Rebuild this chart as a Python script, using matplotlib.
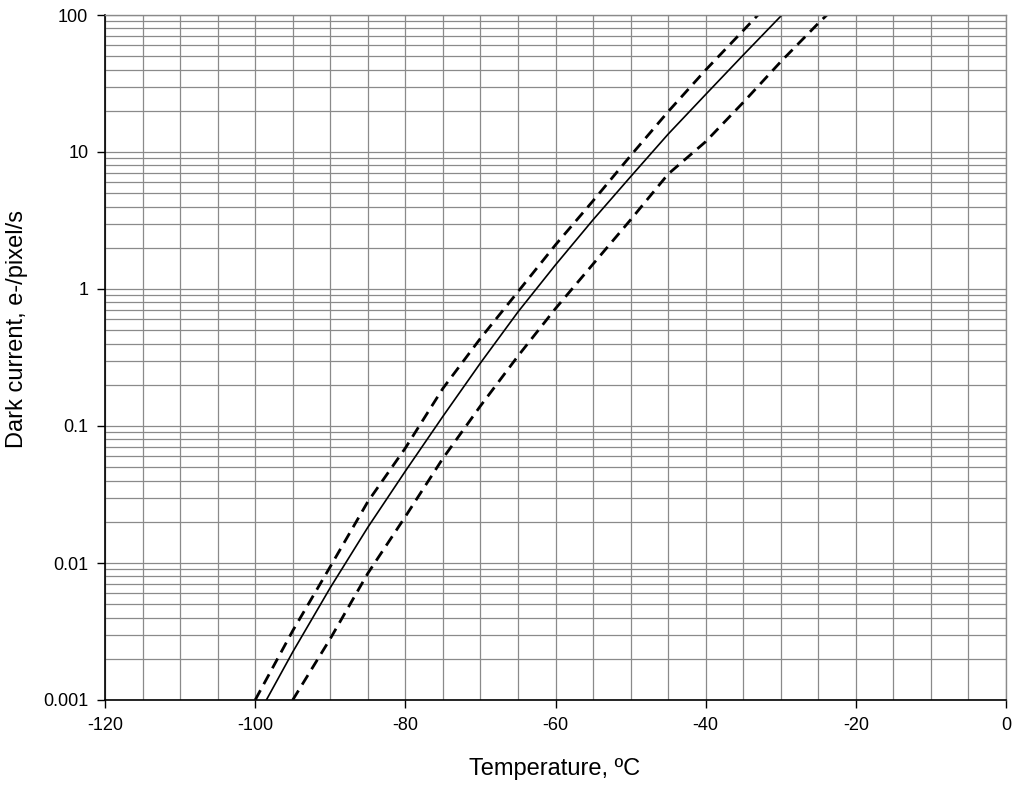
import matplotlib
matplotlib.use("Agg")
import matplotlib.pyplot as plt
from matplotlib.ticker import FixedLocator, FuncFormatter, LogLocator, MultipleLocator

plt.rcParams['font.family'] = ['Liberation Sans', 'DejaVu Sans']
plt.rcParams['axes.unicode_minus'] = False

# temperature points, degC
temp = [-100, -95, -90, -85, -80, -75, -70, -65, -60, -55, -50, -45, -40, -35, -30, -25, -20]

# dark current, e-/pixel/s
typical = [0.00071, 0.00224, 0.0066, 0.0182, 0.0468, 0.1175, 0.288, 0.68, 1.5,
           3.2, 6.6, 13.5, 26.3, 51, 98, 186, None]
upper = [0.001, 0.0032, 0.0094, 0.028, 0.069, 0.188, 0.436, 0.955, 2.1,
         4.4, 9.4, 19.7, 39.7, 77, 150, None, None]
lower = [None, 0.001, 0.0028, 0.0084, 0.0218, 0.058, 0.14, 0.324, 0.72,
         1.52, 3.2, 6.9, 11.9, 23, 45.6, 87, 160]

y_ticks = [0.001, 0.01, 0.1, 1, 10, 100]


def pairs(xs, ys):
    pts = [(x, y) for x, y in zip(xs, ys) if y is not None]
    return [p[0] for p in pts], [p[1] for p in pts]


W, H = 1016, 785
fig = plt.figure(figsize=(W / 100, H / 100), dpi=100)
ax = fig.add_axes([105 / W, 85 / H, 901 / W, 685 / H])

grid_col = '#8a8a8a'
ax.set_yscale('log')
ax.set_xlim(-120, 0)
ax.set_ylim(0.001, 100)

ax.xaxis.set_major_locator(MultipleLocator(20))
ax.xaxis.set_minor_locator(MultipleLocator(5))
ax.yaxis.set_major_locator(FixedLocator(y_ticks))
ax.yaxis.set_minor_locator(LogLocator(base=10, subs=range(2, 10)))
ax.yaxis.set_major_formatter(FuncFormatter(lambda v, p: '{:g}'.format(v)))
ax.yaxis.set_minor_formatter(FuncFormatter(lambda v, p: ''))

ax.grid(True, which='both', color=grid_col, linewidth=0.9)
ax.set_axisbelow(True)

ax.tick_params(which='major', direction='out', length=6, width=1, color='black',
               labelsize=13, pad=6)
ax.tick_params(which='minor', length=0)

for side in ('top', 'right'):
    ax.spines[side].set_color(grid_col)
    ax.spines[side].set_linewidth(1.0)
for side in ('left', 'bottom'):
    ax.spines[side].set_color('black')
    ax.spines[side].set_linewidth(1.2)

x, y = pairs(temp, typical)
ax.plot(x, y, color='black', linewidth=1.2)
x, y = pairs(temp, upper)
ax.plot(x, y, color='black', linewidth=2.0, dashes=(4, 2.5))
x, y = pairs(temp, lower)
ax.plot(x, y, color='black', linewidth=2.0, dashes=(4, 2.5))

# axis titles placed where the original puts them
fig.text(555 / W, (H - 775) / H, 'Temperature, ºC', fontsize=17,
         ha='center', va='baseline')
fig.text(23 / W, (H - 329) / H, 'Dark current, e-/pixel/s', fontsize=17,
         rotation=90, rotation_mode='anchor', ha='center', va='baseline')

fig.savefig('out.png', dpi=100)
